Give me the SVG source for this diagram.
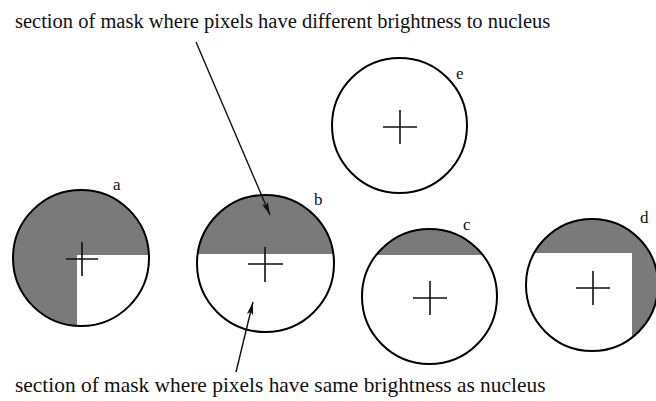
<svg xmlns="http://www.w3.org/2000/svg" width="656" height="401" viewBox="0 0 656 401">
<style>
.ring{fill:none;stroke:#000;stroke-width:2}
.bg{fill:#fff}
.sh{fill:#7a7a7a}
.cr{stroke:#111;stroke-width:1.6;fill:none}
.lbl{font-family:"Liberation Serif",serif;font-size:17px;fill:#111}
.cap{font-family:"Liberation Serif",serif;font-size:20.5px;fill:#111}
.ar{stroke:#111;stroke-width:1.4;fill:none}
</style>
<defs>
<marker id="ah" markerWidth="14" markerHeight="8" refX="13" refY="4" orient="auto" markerUnits="userSpaceOnUse">
<path d="M0,0.8 L13,4 L0,7.2 L3,4 Z" fill="#111"/>
</marker>
<clipPath id="ca"><circle cx="81" cy="258" r="68"/></clipPath>
<clipPath id="cb"><circle cx="265.5" cy="263.5" r="68.5"/></clipPath>
<clipPath id="cc"><circle cx="429.5" cy="296.5" r="67.5"/></clipPath>
<clipPath id="cd"><circle cx="592" cy="285" r="66"/></clipPath>
</defs>
<rect width="656" height="401" fill="#fff"/>
<g id="text-top"><text class="cap" x="15" y="28">section of mask where pixels have different brightness to nucleus</text></g>
<g id="text-bottom"><text class="cap" x="15" y="392" style="font-size:21.4px">section of mask where pixels have same brightness as nucleus</text></g>
<g id="node-a">
<circle class="sh" cx="81" cy="258" r="68"/>
<rect class="bg" x="77" y="255" width="80" height="80" clip-path="url(#ca)"/>
<circle class="ring" cx="81" cy="258" r="68"/>
<path class="cr" d="M66,259H98M82,242V276"/>
<text class="lbl" x="113" y="190">a</text>
</g>
<g id="node-b">
<circle class="bg" cx="265.5" cy="263.5" r="68.5"/>
<rect class="sh" x="190" y="190" width="150" height="64" clip-path="url(#cb)"/>
<circle class="ring" cx="265.5" cy="263.5" r="68.5"/>
<path class="cr" d="M248,264H283M265,247V282"/>
<text class="lbl" x="314" y="205">b</text>
</g>
<g id="node-c">
<circle class="bg" cx="429.5" cy="296.5" r="67.5"/>
<rect class="sh" x="355" y="225" width="150" height="30" clip-path="url(#cc)"/>
<circle class="ring" cx="429.5" cy="296.5" r="67.5"/>
<path class="cr" d="M413,298H447M430,281V315"/>
<text class="lbl" x="463" y="230">c</text>
</g>
<g id="node-d">
<circle class="sh" cx="592" cy="285" r="66"/>
<rect class="bg" x="520" y="253" width="112" height="110" clip-path="url(#cd)"/>
<circle class="ring" cx="592" cy="285" r="66"/>
<path class="cr" d="M576,288H610M593,271V305"/>
<text class="lbl" x="640" y="223">d</text>
</g>
<g id="node-e">
<circle class="bg" cx="399.5" cy="125.5" r="67.5"/>
<circle class="ring" cx="399.5" cy="125.5" r="67.5"/>
<path class="cr" d="M383,127H417M400,110V144"/>
<text class="lbl" x="456" y="79">e</text>
</g>
<g id="connectors">
<line class="ar" x1="196" y1="42" x2="270" y2="215" marker-end="url(#ah)"/>
<line class="ar" x1="236" y1="372" x2="253" y2="302" marker-end="url(#ah)"/>
</g>
</svg>
